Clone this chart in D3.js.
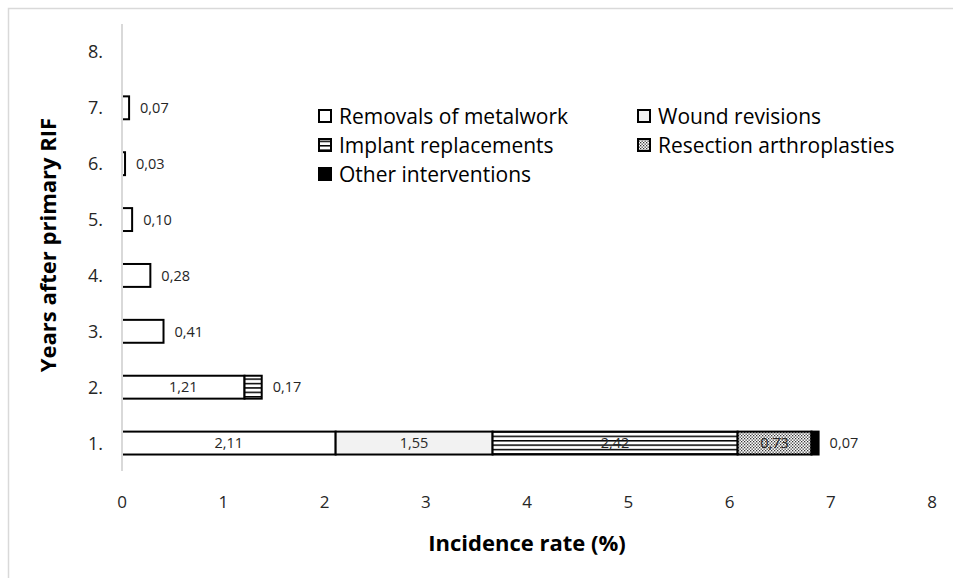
<!DOCTYPE html>
<html>
<head>
<meta charset="utf-8">
<script src="https://cdn.jsdelivr.net/npm/d3@7"></script>
<style>
  body { margin: 0; background: #fff; }
  text { font-family: "Open Sans", Lato, sans-serif; }
</style>
</head>
<body>
<div id="plot"></div>
<script>
// chart values
var years = ["1.", "2.", "3.", "4.", "5.", "6.", "7.", "8."];
var seriesNames = ["Removals of metalwork", "Wound revisions", "Implant replacements",
                   "Resection arthroplasties", "Other interventions"];
var removals  = [2.11, 1.21, 0.41, 0.28, 0.10, 0.03, 0.07, 0];
var wounds    = [1.55, 0, 0, 0, 0, 0, 0, 0];
var implants  = [2.42, 0.17, 0, 0, 0, 0, 0, 0];
var resection = [0.73, 0, 0, 0, 0, 0, 0, 0];
var other     = [0.07, 0, 0, 0, 0, 0, 0, 0];
var xTicks = [0, 1, 2, 3, 4, 5, 6, 7, 8];

var W = 953, H = 578;
var svg = d3.select("#plot").append("svg")
    .attr("width", W).attr("height", H);

var defs = svg.append("defs");
// horizontal stripes
var pStripe = defs.append("pattern")
    .attr("id", "stripes").attr("patternUnits", "userSpaceOnUse")
    .attr("width", 8).attr("height", 4.4);
pStripe.append("rect").attr("width", 8).attr("height", 4.4).attr("fill", "#fff");
pStripe.append("rect").attr("y", 0).attr("width", 8).attr("height", 1.5).attr("fill", "#000");
// fine dotted
var pDot = defs.append("pattern")
    .attr("id", "dots").attr("patternUnits", "userSpaceOnUse")
    .attr("width", 3).attr("height", 3);
pDot.append("rect").attr("width", 3).attr("height", 3).attr("fill", "#fff");
pDot.append("rect").attr("width", 1.3).attr("height", 1.3).attr("fill", "#333");
pDot.append("rect").attr("x", 1.5).attr("y", 1.5).attr("width", 1.3).attr("height", 1.3).attr("fill", "#333");

var fills = ["#ffffff", "#f2f2f2", "url(#stripes)", "url(#dots)", "#000000"];

// outer frame
svg.append("rect")
    .attr("x", 8.5).attr("y", 8.5).attr("width", W + 20).attr("height", H + 20)
    .attr("fill", "none").attr("stroke", "#d9d9d9").attr("stroke-width", 1.5);

var x = d3.scaleLinear().domain([0, 8]).range([122, 932]);
var y = d3.scaleBand().domain(years).range([471, 24]).paddingInner(0.59).paddingOuter(0.295);

var comma = d3.formatLocale({decimal: ",", thousands: ".", grouping: [3], currency: ["", ""]}).format(".2f");

var rows = years.map(function(yr, i) {
    var vals = [removals[i], wounds[i], implants[i], resection[i], other[i]];
    var acc = 0, segs = [];
    vals.forEach(function(v, k) {
        if (v > 0) { segs.push({year: yr, k: k, v: v, x0: acc, x1: acc + v}); }
        acc += v;
    });
    if (segs.length) segs[segs.length - 1].last = true;
    return segs;
});
var segs = [].concat.apply([], rows);

var g = svg.append("g");
g.selectAll(".seg").data(segs).enter().append("rect")
    .attr("class", "seg")
    .attr("x", function(d) { return x(d.x0); })
    .attr("y", function(d) { return y(d.year); })
    .attr("width", function(d) { return x(d.x1) - x(d.x0); })
    .attr("height", y.bandwidth())
    .attr("fill", function(d) { return fills[d.k]; })
    .attr("stroke", "#000").attr("stroke-width", 2);

// labels
g.selectAll(".lbl").data(segs).enter().append("text")
    .attr("class", "lbl")
    .attr("x", function(d) { return d.last ? x(d.x1) + 11 : (x(d.x0) + x(d.x1)) / 2; })
    .attr("y", function(d) { return y(d.year) + y.bandwidth() / 2; })
    .attr("dy", "0.36em")
    .attr("text-anchor", function(d) { return d.last ? "start" : "middle"; })
    .style("font-size", "14.5px").attr("fill", "#262626")
    .text(function(d) { return comma(d.v); });

// y axis line
svg.append("line")
    .attr("x1", x(0)).attr("x2", x(0)).attr("y1", 24).attr("y2", 471)
    .attr("stroke", "#d9d9d9").attr("stroke-width", 2);

// y tick labels
svg.selectAll(".ytick").data(years).enter().append("text")
    .attr("x", 103).attr("y", function(d) { return y(d) + y.bandwidth() / 2; })
    .attr("dy", "0.36em").attr("text-anchor", "end")
    .style("font-size", "18px").attr("fill", "#262626")
    .text(function(d) { return d; });

// x tick labels
svg.selectAll(".xtick").data(xTicks).enter().append("text")
    .attr("x", function(d) { return x(d); }).attr("y", 502)
    .attr("dy", "0.36em").attr("text-anchor", "middle")
    .style("font-size", "17px").attr("fill", "#262626")
    .text(function(d) { return d; });

// axis titles
svg.append("text")
    .attr("x", 527).attr("y", 543).attr("dy", "0.36em").attr("text-anchor", "middle")
    .style("font-size", "22px").style("font-weight", "bold").attr("fill", "#000")
    .text("Incidence rate (%)");
svg.append("text")
    .attr("transform", "translate(48,245) rotate(-90)")
    .attr("dy", "0.36em").attr("text-anchor", "middle")
    .style("font-size", "22px").style("font-weight", "bold").attr("fill", "#000")
    .text("Years after primary RIF");

// legend
var legPos = [[318, 116], [637, 116], [318, 145], [637, 145], [318, 174]];
var leg = svg.selectAll(".leg").data(seriesNames).enter().append("g")
    .attr("transform", function(d, i) { return "translate(" + legPos[i][0] + "," + legPos[i][1] + ")"; });
leg.append("rect")
    .attr("x", 1).attr("y", -6).attr("width", 12).attr("height", 12)
    .attr("fill", function(d, i) { return fills[i]; })
    .attr("stroke", "#000").attr("stroke-width", 2);
leg.append("text")
    .attr("x", 21).attr("dy", "0.36em")
    .style("font-size", "21px").attr("fill", "#000")
    .text(function(d) { return d; });
</script>
</body>
</html>
